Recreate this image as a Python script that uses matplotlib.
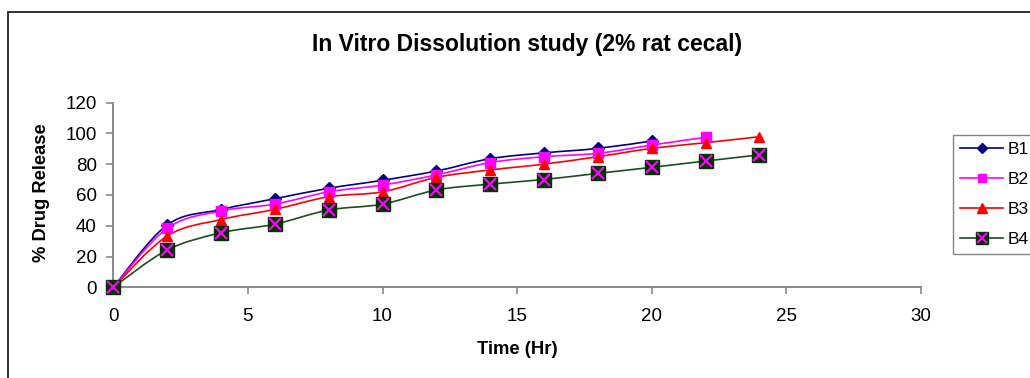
import numpy as np
import matplotlib
matplotlib.use("Agg")
import matplotlib.pyplot as plt
from matplotlib.path import Path
from matplotlib.patches import PathPatch, Rectangle
from matplotlib.lines import Line2D

plt.rcParams['font.family'] = ['Liberation Sans', 'DejaVu Sans']

# ---- data ----
time_b1 = [0, 2, 4, 6, 8, 10, 12, 14, 16, 18, 20]
b1 = [0, 40.5, 50.5, 57.5, 64.3, 69.5, 75.5, 83.5, 87.3, 90.2, 95.0]
time_b2 = [0, 2, 4, 6, 8, 10, 12, 14, 16, 18, 20, 22]
b2 = [0, 38.3, 49.6, 54.0, 62.0, 66.4, 73.0, 81.0, 84.8, 87.0, 92.4, 97.4]
time_b3 = [0, 2, 4, 6, 8, 10, 12, 14, 16, 18, 20, 22, 24]
b3 = [0, 33.3, 44.0, 50.6, 58.8, 62.0, 71.4, 76.2, 80.0, 84.8, 90.2, 93.9, 97.8]
time_b4 = [0, 2, 4, 6, 8, 10, 12, 14, 16, 18, 20, 22, 24]
b4 = [0, 24.2, 35.4, 41.0, 50.2, 54.0, 63.2, 67.0, 70.0, 74.0, 77.9, 82.0, 86.0]

x_ticks = [0, 5, 10, 15, 20, 25, 30]
y_ticks = [0, 20, 40, 60, 80, 100, 120]
series_names = ['B1', 'B2', 'B3', 'B4']
title = "In Vitro Dissolution study (2% rat cecal)"
xlabel = "Time (Hr)"
ylabel = "% Drug Release"


def smooth_path(xs, ys):
    p = np.column_stack([np.asarray(xs, float), np.asarray(ys, float)])
    n = len(p)
    verts = [p[0]]
    codes = [Path.MOVETO]
    for i in range(n - 1):
        p0 = p[i - 1] if i > 0 else p[i]
        p1 = p[i]
        p2 = p[i + 1]
        p3 = p[i + 2] if i + 2 < n else p[i + 1]
        c1 = p1 + (p2 - p0) / 6.0
        c2 = p2 - (p3 - p1) / 6.0
        verts += [c1, c2, p2]
        codes += [Path.CURVE4] * 3
    return Path(verts, codes)


fig = plt.figure(figsize=(10.30, 3.78), dpi=100)
W, H = 1030, 378
ax = fig.add_axes([113.3 / W, 1 - 287.3 / H, (921 - 113.3) / W, (287.3 - 102.5) / H])

# outer chart border
fig.add_artist(Rectangle((8 / W, -0.2), 1.2, 1.2 - 12 / H, transform=fig.transFigure,
                         fill=False, ec='#222222', lw=1.3))

series = [
    (time_b1, b1, '#000080', 'D', 6.0, 5.0),
    (time_b2, b2, '#FF00FF', 's', 6.5, 5.5),
    (time_b3, b3, '#FF0000', '^', 7.5, 7.0),
]
handles = []
for xs, ys, col, mk, ms, lms in series:
    ax.add_patch(PathPatch(smooth_path(xs, ys), fill=False, ec=col, lw=1.2, zorder=2))
    ax.plot(xs, ys, linestyle='none', marker=mk, ms=ms, mfc=col, mec=col, zorder=3, clip_on=False)
    handles.append(Line2D([], [], color=col, lw=1.2, marker=mk, ms=lms, mfc=col, mec=col))

green = '#003300'
ax.add_patch(PathPatch(smooth_path(time_b4, b4), fill=False, ec='#1E4D1E', lw=1.2, zorder=2))
ax.plot(time_b4, b4, linestyle='none', marker='s', ms=9.5, mfc=green, mec=green, zorder=4, clip_on=False)
ax.plot(time_b4, b4, linestyle='none', marker='x', ms=8, mec='#FF00FF', mew=1.6, zorder=5, clip_on=False)
h4a = Line2D([], [], color='#1E4D1E', lw=1.2, marker='s', ms=8, mfc=green, mec=green)
h4b = Line2D([], [], linestyle='none', marker='x', ms=6.5, mec='#FF00FF', mew=1.5)
handles.append((h4a, h4b))

ax.set_xlim(0, 30)
ax.set_ylim(0, 120)
ax.set_xticks(x_ticks)
ax.set_yticks(y_ticks)
for s in ['top', 'right']:
    ax.spines[s].set_visible(False)
for s in ['left', 'bottom']:
    ax.spines[s].set_color('#808080')
    ax.spines[s].set_linewidth(1.3)
ax.tick_params(axis='both', direction='out', length=5, width=1.1, color='#808080',
               labelsize=13.5, labelcolor='black')
ax.tick_params(axis='y', pad=7)
ax.tick_params(axis='x', pad=10)

fig.text(527 / W, 1 - 45 / H, title, ha='center', va='center', fontsize=16.5, fontweight='bold')
fig.text(517 / W, 1 - 349 / H, xlabel, ha='center', va='center', fontsize=13.3, fontweight='bold')
fig.text(42 / W, 1 - 192.5 / H, ylabel, ha='center', va='center', rotation=90,
         fontsize=13.2, fontweight='bold')

leg = fig.legend(handles, series_names, loc='upper left',
                 bbox_to_anchor=(953 / W, 1 - 135 / H), bbox_transform=fig.transFigure,
                 frameon=True, fancybox=False, fontsize=12.5, handlelength=2.5,
                 handletextpad=0.25, labelspacing=0.85, borderpad=0.4, borderaxespad=0)
leg.get_frame().set_edgecolor('#666666')
leg.get_frame().set_linewidth(1.0)

fig.savefig('out.png', dpi=100)
